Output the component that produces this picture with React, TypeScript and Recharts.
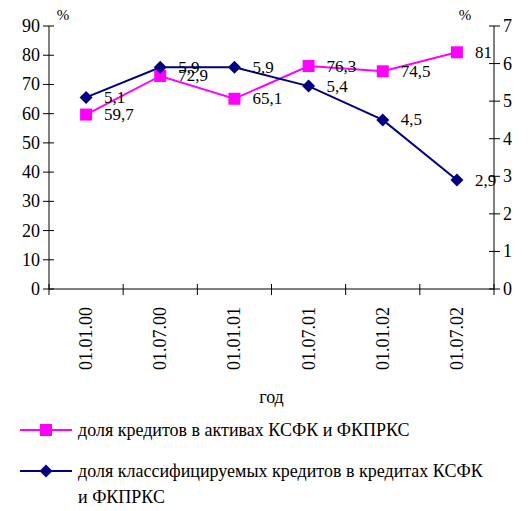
import { LineChart, Line, XAxis, YAxis, LabelList } from 'recharts'

const dates = ['01.01.00', '01.07.00', '01.01.01', '01.07.01', '01.01.02', '01.07.02']
const loanShare = [59.7, 72.9, 65.1, 76.3, 74.5, 81]
const classifiedShare = [5.1, 5.9, 5.9, 5.4, 4.5, 2.9]
const leftTicks = [0, 10, 20, 30, 40, 50, 60, 70, 80, 90]
const rightTicks = [0, 1, 2, 3, 4, 5, 6, 7]

const loanName = 'доля кредитов в активах КСФК и ФКПРКС'
const classifiedName = ['доля классифицируемых кредитов в кредитах КСФК', 'и ФКПРКС']

const W = 530
const H = 511
const LEFT = 49
const RIGHT = 494
const TOP = 26
const BOTTOM = 289
const BAND = (RIGHT - LEFT) / dates.length

const PINK = '#ff00ff'
const NAVY = '#000080'
const FONT = "'Liberation Serif', Tinos, 'Times New Roman', 'DejaVu Serif', serif"

const data = dates.map((d, i) => ({ date: d, loans: loanShare[i], classified: classifiedShare[i] }))

const fmt = (v: number) => String(v).replace('.', ',')

const txt = { fontSize: 18, fontFamily: FONT, fill: '#000' }

function LeftTick({ y, payload }: any) {
  return (
    <g>
      <line x1={LEFT - 6} x2={LEFT + 5} y1={y} y2={y} stroke="#000" />
      <text x={LEFT - 9} y={y} textAnchor="end" dominantBaseline="central" style={txt}>
        {payload.value}
      </text>
    </g>
  )
}

function RightTick({ y, payload }: any) {
  return (
    <g>
      <line x1={RIGHT - 5} x2={RIGHT + 6} y1={y} y2={y} stroke="#000" />
      <text x={RIGHT + 9} y={y} textAnchor="start" dominantBaseline="central" style={txt}>
        {payload.value}
      </text>
    </g>
  )
}

function DateTick({ x, payload, index }: any) {
  const ty = BOTTOM + 18
  return (
    <g>
      <line x1={x - BAND / 2} x2={x - BAND / 2} y1={BOTTOM - 5} y2={BOTTOM + 6} stroke="#000" />
      {index === dates.length - 1 && (
        <line x1={x + BAND / 2} x2={x + BAND / 2} y1={BOTTOM - 5} y2={BOTTOM + 6} stroke="#000" />
      )}
      <text
        x={x}
        y={ty}
        transform={`rotate(-90, ${x}, ${ty})`}
        textAnchor="end"
        dominantBaseline="central"
        style={txt}
      >
        {payload.value}
      </text>
    </g>
  )
}

function SquareDot({ cx, cy }: any) {
  return <rect x={cx - 6} y={cy - 6} width={12} height={12} fill={PINK} />
}

function DiamondDot({ cx, cy }: any) {
  return <polygon points={`${cx},${cy - 6.5} ${cx + 6.5},${cy} ${cx},${cy + 6.5} ${cx - 6.5},${cy}`} fill={NAVY} />
}

function ValueLabel({ x, y, value }: any) {
  return (
    <text x={x + 18} y={y} dominantBaseline="central" style={{ ...txt, fontSize: 17 }}>
      {fmt(value)}
    </text>
  )
}

export default function App() {
  return (
    <div style={{ position: 'absolute', left: 0, top: 0, width: W, height: H, background: '#fff', fontFamily: FONT }}>
      <LineChart width={W} height={H} data={data} margin={{ top: TOP, right: 0, bottom: 0, left: 0 }} style={{ fontFamily: FONT }}>
        <XAxis
          dataKey="date"
          scale="band"
          interval={0}
          height={H - BOTTOM}
          axisLine={{ stroke: '#000' }}
          tickLine={false}
          tick={<DateTick />}
        />
        <YAxis
          yAxisId="left"
          width={LEFT}
          domain={[0, 90]}
          ticks={leftTicks}
          axisLine={{ stroke: '#000' }}
          tickLine={false}
          tick={<LeftTick />}
        />
        <YAxis
          yAxisId="right"
          orientation="right"
          width={W - RIGHT}
          domain={[0, 7]}
          ticks={rightTicks}
          axisLine={{ stroke: '#000' }}
          tickLine={false}
          tick={<RightTick />}
        />
        <Line
          yAxisId="left"
          dataKey="loans"
          stroke={PINK}
          strokeWidth={2}
          dot={<SquareDot />}
          isAnimationActive={false}
        >
          <LabelList dataKey="loans" content={<ValueLabel />} />
        </Line>
        <Line
          yAxisId="right"
          dataKey="classified"
          stroke={NAVY}
          strokeWidth={2}
          dot={<DiamondDot />}
          isAnimationActive={false}
        >
          <LabelList dataKey="classified" content={<ValueLabel />} />
        </Line>
        <text x={63} y={15} textAnchor="middle" dominantBaseline="central" style={{ ...txt, fontSize: 15 }}>%</text>
        <text x={465} y={15} textAnchor="middle" dominantBaseline="central" style={{ ...txt, fontSize: 15 }}>%</text>
        <text x={(LEFT + RIGHT) / 2} y={397} textAnchor="middle" dominantBaseline="central" style={txt}>год</text>
      </LineChart>

      <div style={{ position: 'absolute', left: 20, top: 419, display: 'flex', alignItems: 'center', fontSize: 18, lineHeight: '22px', fontFamily: FONT }}>
        <svg width={52} height={22} style={{ marginRight: 6 }}>
          <line x1={0} x2={52} y1={11} y2={11} stroke={PINK} strokeWidth={2} />
          <rect x={20} y={5} width={12} height={12} fill={PINK} />
        </svg>
        <span>{loanName}</span>
      </div>
      <div style={{ position: 'absolute', left: 20, top: 460, display: 'flex', alignItems: 'flex-start', fontSize: 18, lineHeight: '26px', fontFamily: FONT }}>
        <svg width={52} height={22} style={{ marginRight: 6 }}>
          <line x1={0} x2={52} y1={11} y2={11} stroke={NAVY} strokeWidth={2} />
          <polygon points="26,4.5 32.5,11 26,17.5 19.5,11" fill={NAVY} />
        </svg>
        <span style={{ marginTop: -2 }}>
          {classifiedName[0]}
          <br />
          {classifiedName[1]}
        </span>
      </div>
    </div>
  )
}
